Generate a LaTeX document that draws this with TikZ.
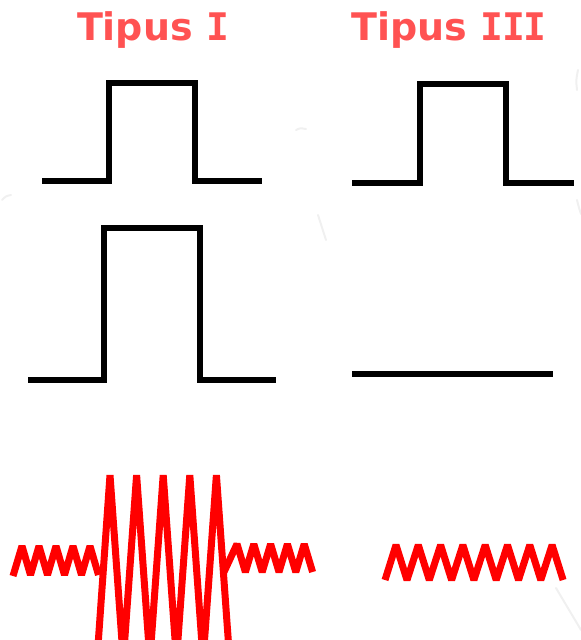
\documentclass[tikz,border=0pt]{standalone}
\usepackage{fontspec}
\newfontfamily\titlefont{DejaVu Sans}
\newfontfamily\romanfont{DejaVu Sans Mono}
\newcommand{\RomI}{{\romanfont\bfseries I}}
\definecolor{titlered}{RGB}{255,82,82}
\definecolor{wavered}{RGB}{255,0,0}
\tikzset{
  title/.style={text=titlered, font=\titlefont\bfseries\fontsize{38}{40}\selectfont, anchor=base, inner sep=0pt},
  pulse/.style={line width=5.4pt, black, line join=miter},
  wave/.style={line width=7pt, wavered, line join=bevel},
  ghost/.style={line width=2pt, black!6, line cap=round}
}
\begin{document}
\begin{tikzpicture}[x=1pt,y=-1pt]
  \useasboundingbox (0,0) rectangle (581,640);
  \clip (0,0) rectangle (581,640);

  % faint marks in the background
  \draw[ghost] (296,130) .. controls (300,128) .. (306,129);
  \draw[ghost] (318,215) .. controls (322,228) .. (326,240);
  \draw[ghost] (2,200) .. controls (6,196) .. (11,195);
  \draw[ghost] (578,70) .. controls (576,80) .. (577,90);
  \draw[ghost] (577,200) .. controls (579,208) .. (581,214);
  \draw[ghost] (556,588) -- (581,630);

  % column titles
  \node[title] (t1) at (153,40) {Tipus \RomI};
  \node[title] (t3) at (449,40) {Tipus \RomI\kern-1pt\RomI\kern-1pt\RomI};

  % Tipus I: stimulus pulse and response pulse
  \draw[pulse] (42,181) -- (109,181) -- (109,83) -- (195,83) -- (195,181) -- (262,181);
  \draw[pulse] (28,380) -- (104,380) -- (104,228) -- (200,228) -- (200,380) -- (276,380);

  % Tipus III: stimulus pulse and flat response
  \draw[pulse] (352,183) -- (420,183) -- (420,84) -- (506,84) -- (506,183) -- (574,183);
  \draw[pulse] (352,374) -- (553,374);

  % Tipus I: firing burst
  \draw[wave] (13,576)
    \foreach \k in {0,...,4} { -- ({22+17*\k},546) -- ({30.5+17*\k},575) };
  \draw[wave] (97,660)
    \foreach \k in {0,...,4} { -- ({110+26.6*\k},475) -- ({123.3+26.6*\k},660) };
  \draw[wave] (224,572)
    \foreach \k in {0,...,4} { -- ({237+16.8*\k},544) -- ({245.4+16.8*\k},572) };

  % Tipus III: steady firing
  \draw[wave] (385,580)
    \foreach \k in {0,...,7} { -- ({396+22.3*\k},545) -- ({407+22.3*\k},580) };
\end{tikzpicture}
\end{document}
